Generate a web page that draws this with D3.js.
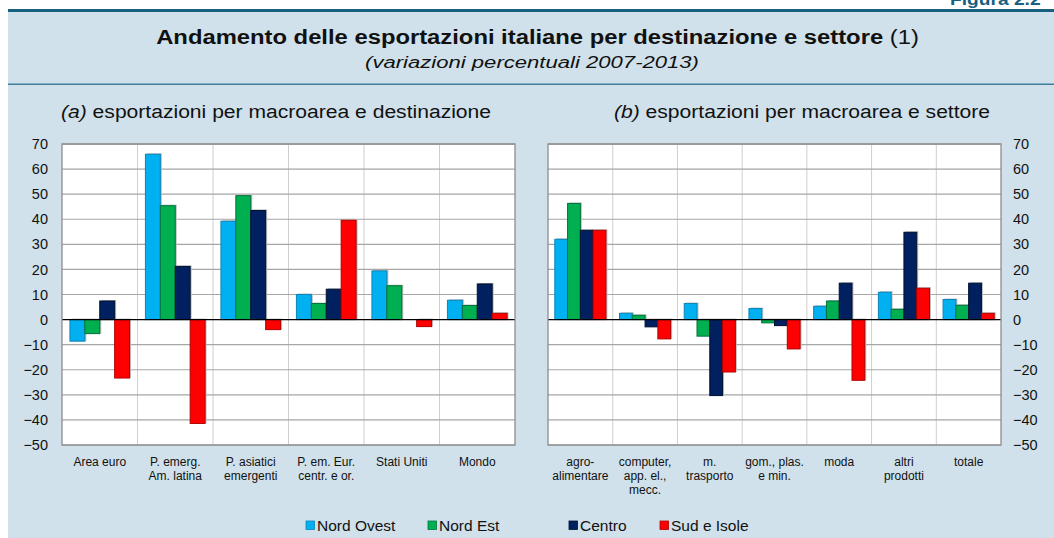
<!DOCTYPE html>
<html>
<head>
<meta charset="utf-8">
<script src="https://cdn.jsdelivr.net/npm/d3@7"></script>
<style>
  html, body { margin: 0; padding: 0; background: #ffffff; }
  svg { display: block; font-family: "Liberation Sans", Arial, sans-serif; }
</style>
</head>
<body>
<div id="chart"></div>
<script>
const seriesNames = ['Nord Ovest', 'Nord Est', 'Centro', 'Sud e Isole'];
const seriesFill = ['#00b0f0', '#00b050', '#002060', '#ff0000'];
const seriesStroke = ['#0a86b8', '#00733a', '#001030', '#b00000'];

const destCategories = [
    ['Area euro'],
    ['P. emerg.', 'Am. latina'],
    ['P. asiatici', 'emergenti'],
    ['P. em. Eur.', 'centr. e or.'],
    ['Stati Uniti'],
    ['Mondo']
];
const destNordOvest = [-8.6, 65.9, 39.2, 10.0, 19.4, 7.7];
const destNordEst = [-5.6, 45.4, 49.4, 6.4, 13.5, 5.6];
const destCentro = [7.4, 21.2, 43.5, 12.1, 0, 14.2];
const destSud = [-23.3, -41.4, -4.0, 39.6, -2.8, 2.5];

const sectCategories = [
    ['agro-', 'alimentare'],
    ['computer,', 'app. el.,', 'mecc.'],
    ['m.', 'trasporto'],
    ['gom., plas.', 'e min.'],
    ['moda'],
    ['altri', 'prodotti'],
    ['totale']
];
const sectNordOvest = [32.0, 2.5, 6.4, 4.4, 5.3, 10.9, 8.0];
const sectNordEst = [46.3, 1.7, -6.6, -1.3, 7.4, 4.1, 5.7];
const sectCentro = [35.6, -2.9, -30.3, -2.4, 14.5, 34.8, 14.5];
const sectSud = [35.6, -7.7, -20.9, -11.7, -24.2, 12.5, 2.5];

const yTicks = [70, 60, 50, 40, 30, 20, 10, 0, -10, -20, -30, -40, -50];

const width = 1054, height = 538;
const svg = d3.select('#chart').append('svg').attr('width', width).attr('height', height);

// background panel
svg.append('rect').attr('x', 8).attr('y', 10).attr('width', width - 8).attr('height', height - 10).attr('fill', '#d0e1eb');
svg.append('rect').attr('x', 8).attr('y', 9).attr('width', width - 8).attr('height', 3).attr('fill', '#17607f');
svg.append('rect').attr('x', 8).attr('y', 83.5).attr('width', width - 8).attr('height', 1.5).attr('fill', '#3d7f9c');

// stretched text helper (the source lettering is wider than Liberation Sans)
function wideText(cx, cy, sx, anchor) {
    return svg.append('text').attr('transform', `translate(${cx},${cy}) scale(${sx},1)`)
        .attr('text-anchor', anchor).attr('fill', '#111');
}

wideText(950, 5, 1.2, 'start').attr('font-size', 16).attr('font-weight', 'bold')
    .attr('fill', '#17607f').text('Figura 2.2');

const title = wideText(537.5, 44, 1.19, 'middle').attr('font-size', 20);
title.append('tspan').attr('font-weight', 'bold').text('Andamento delle esportazioni italiane per destinazione e settore ');
title.append('tspan').text('(1)');
wideText(532, 68, 1.3, 'middle').attr('font-size', 17).attr('font-style', 'italic')
    .text('(variazioni percentuali 2007-2013)');

function panelTitle(x, letter, rest) {
    const t = wideText(x, 118, 1.11, 'middle').attr('font-size', 19);
    t.append('tspan').attr('font-style', 'italic').text(letter);
    t.append('tspan').text(rest);
}
panelTitle(276, '(a)', ' esportazioni per macroarea e destinazione');
panelTitle(802, '(b)', ' esportazioni per macroarea e settore');

const plotTop = 144, plotBottom = 445;
const y = d3.scaleLinear().domain([-50, 70]).range([plotBottom, plotTop]);

function drawPanel(left, right, categories, values, axisSide) {
    const g = svg.append('g');
    const x = d3.scaleBand().domain(d3.range(categories.length)).range([left, right]).padding(0);
    const bw = x.bandwidth();
    const xs = d3.scaleBand().domain(d3.range(seriesNames.length)).range([bw * 0.105, bw * 0.895]).padding(0);

    g.append('rect').attr('x', left).attr('y', plotTop).attr('width', right - left).attr('height', plotBottom - plotTop)
        .attr('fill', '#ffffff');

    // vertical category separators
    g.selectAll('line.vgrid').data(d3.range(1, categories.length)).join('line')
        .attr('x1', (d) => x(d)).attr('x2', (d) => x(d))
        .attr('y1', plotTop).attr('y2', plotBottom)
        .attr('stroke', '#cfcfcf').attr('stroke-width', 1);

    // horizontal grid
    g.selectAll('line.hgrid').data(yTicks.filter((d) => d !== 0)).join('line')
        .attr('x1', left).attr('x2', right)
        .attr('y1', (d) => y(d)).attr('y2', (d) => y(d))
        .attr('stroke', '#a6a6a6').attr('stroke-width', 1.2);

    // bars
    const rows = [];
    values.forEach((vals, s) => vals.forEach((v, c) => rows.push({ s, c, v })));
    const bars = g.selectAll('g.bar').data(rows.filter((d) => d.v !== 0)).join('g');
    bars.append('rect')
        .attr('x', (d) => x(d.c) + xs(d.s) + 1.5)
        .attr('y', (d) => Math.min(y(d.v), y(0)) - 1)
        .attr('width', xs.bandwidth())
        .attr('height', (d) => Math.abs(y(d.v) - y(0)) + 1)
        .attr('fill', '#bdbdbd');
    bars.append('rect')
        .attr('x', (d) => x(d.c) + xs(d.s))
        .attr('y', (d) => Math.min(y(d.v), y(0)))
        .attr('width', xs.bandwidth())
        .attr('height', (d) => Math.abs(y(d.v) - y(0)))
        .attr('fill', (d) => seriesFill[d.s])
        .attr('stroke', (d) => seriesStroke[d.s])
        .attr('stroke-width', 1);

    // zero line + frame
    g.append('line').attr('x1', left).attr('x2', right).attr('y1', y(0)).attr('y2', y(0))
        .attr('stroke', '#000').attr('stroke-width', 1.3);
    g.append('rect').attr('x', left).attr('y', plotTop).attr('width', right - left).attr('height', plotBottom - plotTop)
        .attr('fill', 'none').attr('stroke', '#8c8c8c').attr('stroke-width', 1.3);
    g.append('line').attr('x1', left).attr('x2', right).attr('y1', plotTop).attr('y2', plotTop)
        .attr('stroke', '#9a9a9a').attr('stroke-width', 2);

    // y axis
    const axis = axisSide === 'left'
        ? d3.axisLeft(y).tickValues(yTicks).tickSize(0).tickPadding(14)
        : d3.axisRight(y).tickValues(yTicks).tickSize(0).tickPadding(12);
    const ax = g.append('g').attr('transform', `translate(${axisSide === 'left' ? left : right},0)`).call(axis);
    ax.select('.domain').remove();
    ax.selectAll('text').attr('font-size', 14.5).attr('fill', '#111')
        .attr('font-family', '"Liberation Sans", Arial, sans-serif');

    // category labels
    const lab = g.selectAll('text.cat').data(categories).join('text')
        .attr('text-anchor', 'middle').attr('font-size', 12).attr('fill', '#111')
        .attr('x', (d, i) => x(i) + bw / 2).attr('y', 466);
    lab.selectAll('tspan').data((d) => d).join('tspan')
        .attr('x', function () { return d3.select(this.parentNode).attr('x'); })
        .attr('dy', (d, i) => (i === 0 ? 0 : 14)).text((d) => d);
}

drawPanel(62, 515, destCategories, [destNordOvest, destNordEst, destCentro, destSud], 'left');
drawPanel(548, 1001, sectCategories, [sectNordOvest, sectNordEst, sectCentro, sectSud], 'right');

// legend
const legendX = [306, 428, 569, 660];
const legend = svg.append('g').selectAll('g').data(seriesNames).join('g')
    .attr('transform', (d, i) => `translate(${legendX[i]},521)`);
legend.append('rect').attr('width', 8.5).attr('height', 8.5)
    .attr('fill', (d, i) => seriesFill[i]).attr('stroke', (d, i) => seriesStroke[i]).attr('stroke-width', 0.8);
legend.append('text').attr('x', 11).attr('y', 9.8).attr('font-size', 15.5).attr('fill', '#111').text((d) => d);
</script>
</body>
</html>
